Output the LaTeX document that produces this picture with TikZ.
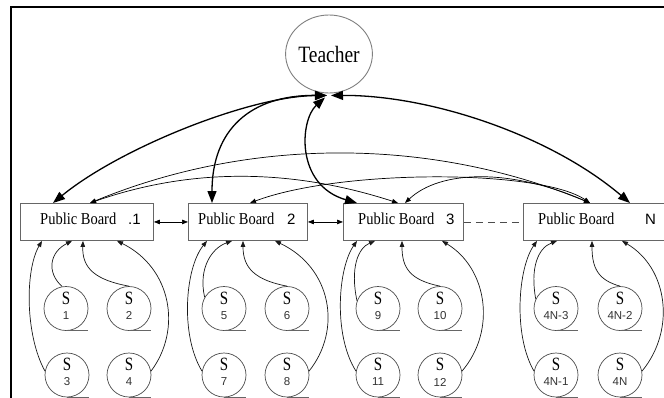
\documentclass[tikz,border=0pt]{standalone}
\usepackage{fontspec}
\setmainfont{Liberation Serif}
\newfontfamily\arialf{Liberation Sans}
\usetikzlibrary{arrows.meta,shapes.geometric}
\newcommand\pbfont{\fontsize{14.5}{16}\selectfont}
\newcommand\pbnum{\arialf\fontsize{15}{16}\selectfont}
\begin{document}
\begin{tikzpicture}[x=1pt,y=-1pt,
  board/.style={draw=black!60,line width=0.9pt,minimum width=#1,minimum height=37pt,inner sep=0pt,anchor=north west},
  stud/.style={circle,draw=black!70,line width=0.7pt,minimum size=44pt,inner sep=0pt},
  ulin/.style={draw=black!60,line width=0.8pt},
  tarrow/.style={line width=1.3pt,{Triangle[length=12pt,width=9pt]}-{Triangle[length=12pt,width=9pt]}},
  barrow/.style={line width=0.7pt,{Triangle[length=6pt,width=4.5pt]}-{Triangle[length=6pt,width=4.5pt]}},
  sarrow/.style={line width=0.7pt,black!90,-{Triangle[length=6pt,width=4.5pt]}},
  slab/.style={inner sep=0pt},
  nlab/.style={inner sep=0pt,text=black!80,font=\arialf\fontsize{11.5}{12}\selectfont}
]
\useasboundingbox (0,0) rectangle (664,397);
\fill[white] (0,0) rectangle (664,397);
% frame
\draw[line width=1.2pt] (11,398) -- (11,7) -- (666,7);
% teacher
\node[ellipse,draw=black!50,line width=0.9pt,minimum width=74pt,minimum height=78pt,inner sep=0pt] (tch) at (329,54)
  {\scalebox{1}[1.2]{\fontsize{19.5}{20}\selectfont Teacher}};
% boards
\node[board=133pt] (b1) at (20,203) {};
\node[board=119pt] (b2) at (188,203) {};
\node[board=120pt] (b3) at (343,203) {};
\node[board=150pt] (bN) at (523,203) {};
\node[anchor=base west,inner sep=0pt] (b1t) at (40,224) {\scalebox{1}[1.15]{\pbfont Public Board}};
\node[anchor=base west,inner sep=0pt] (b1n) at (128,224) {\pbnum .1};
\node[anchor=base west,inner sep=0pt] (b2t) at (198,224) {\scalebox{1}[1.15]{\pbfont Public Board}};
\node[anchor=base west,inner sep=0pt] (b2n) at (287,224) {\pbnum 2};
\node[anchor=base west,inner sep=0pt] (b3t) at (358,224) {\scalebox{1}[1.15]{\pbfont Public Board}};
\node[anchor=base west,inner sep=0pt] (b3n) at (446,224) {\pbnum 3};
\node[anchor=base west,inner sep=0pt] (bNt) at (538,224) {\scalebox{1}[1.15]{\pbfont Public Board}};
\node[anchor=base west,inner sep=0pt] (bNn) at (645,224) {\pbnum N};
% board links
\draw[barrow] (b1.east) -- (b2.west);
\draw[barrow] (b2.east) -- (b3.west);
\draw[black!70,line width=0.8pt,dash pattern=on 7pt off 5pt] (b3.east) -- (bN.west);
% teacher arrows
\draw[tarrow] ([xshift=-2pt,yshift=-2pt]tch.south) .. controls (250,96) and (120,148) .. ([xshift=33pt]b1.north west);
\draw[tarrow] ([xshift=-2pt,yshift=-2pt]tch.south) .. controls (250,95) and (212,130) .. ([xshift=24pt]b2.north west);
\draw[tarrow] ([xshift=-4pt,yshift=-4pt]tch.south) .. controls (300,120) and (295,185) .. ([xshift=14pt]b3.north west);
\draw[tarrow] ([xshift=2pt,yshift=-2pt]tch.south) .. controls (430,95) and (550,135) .. ([xshift=107pt]bN.north west);
% board mesh
\draw[barrow] ([xshift=70pt]b1.north west) .. controls (250,137) and (430,137) .. ([xshift=67pt]bN.north west);
\draw[barrow] ([xshift=70pt]b1.north west) .. controls (190,168) and (290,168) .. ([xshift=55pt]b3.north west);
\draw[barrow] ([xshift=62pt]b2.north west) .. controls (340,169) and (540,169) .. ([xshift=67pt]bN.north west);
\draw[barrow] ([xshift=62pt]b3.north west) .. controls (440,170) and (510,168) .. ([xshift=67pt]bN.north west);
% students
\foreach \n/\x/\y/\l in {1/66/308.5/1,2/129/308.5/2,3/67/375/3,4/129/375/4,
  5/224/308.5/5,6/287/308.5/6,7/224/375/7,8/287/375/8,
  9/378/308.5/9,10/440/308.5/10,11/378/375/11,12/440/375/12,
  13/556/308.5/4N-3,14/620/308.5/4N-2,15/556/375/4N-1,16/620/375/4N}{
  \node[stud] (s\n) at (\x,\y) {};
  \draw[ulin] (s\n.south) -- ++(22,0);
  \node[slab] (s\n S) at (\x,\y-10.5) {\scalebox{1}[1.25]{\fontsize{15}{16}\selectfont S}};
  \node[nlab] (s\n N) at (\x,\y+7) {\l};
}
% student arrows, board 1
\draw[sarrow] (s1.100) .. controls (46,272) and (50,252) .. ([xshift=52pt]b1.south west);
\draw[sarrow] (s2.north) .. controls (95,280) and (82,268) .. ([xshift=63pt]b1.south west);
\draw[sarrow] (s3.170) .. controls (25,335) and (25,270) .. ([xshift=22pt]b1.south west);
\draw[sarrow] (s4.10) .. controls (182,330) and (172,268) .. ([xshift=97pt]b1.south west);
% board 2
\draw[sarrow] (s5.150) .. controls (198,268) and (212,248) .. ([xshift=44pt]b2.south west);
\draw[sarrow] (s6.north) .. controls (255,280) and (243,268) .. ([xshift=55pt]b2.south west);
\draw[sarrow] (s7.170) .. controls (180,335) and (185,268) .. ([xshift=19pt]b2.south west);
\draw[sarrow] (s8.10) .. controls (342,330) and (332,268) .. ([xshift=87pt]b2.south west);
% board 3
\draw[sarrow] (s9.160) .. controls (350,268) and (358,248) .. ([xshift=32pt]b3.south west);
\draw[sarrow] (s10.north) .. controls (410,280) and (402,268) .. ([xshift=59pt]b3.south west);
\draw[sarrow] (s11.170) .. controls (333,335) and (338,268) .. ([xshift=14pt]b3.south west);
\draw[sarrow] (s12.10) .. controls (497,330) and (487,268) .. ([xshift=99pt]b3.south west);
% board N
\draw[sarrow] (s13.155) .. controls (530,268) and (538,248) .. ([xshift=34pt]bN.south west);
\draw[sarrow] (s14.north) .. controls (598,280) and (592,268) .. ([xshift=69pt]bN.south west);
\draw[sarrow] (s15.170) .. controls (513,335) and (518,268) .. ([xshift=14pt]bN.south west);
\draw[sarrow] (s16.10) .. controls (676,330) and (668,268) .. ([xshift=99pt]bN.south west);
\end{tikzpicture}
\end{document}
